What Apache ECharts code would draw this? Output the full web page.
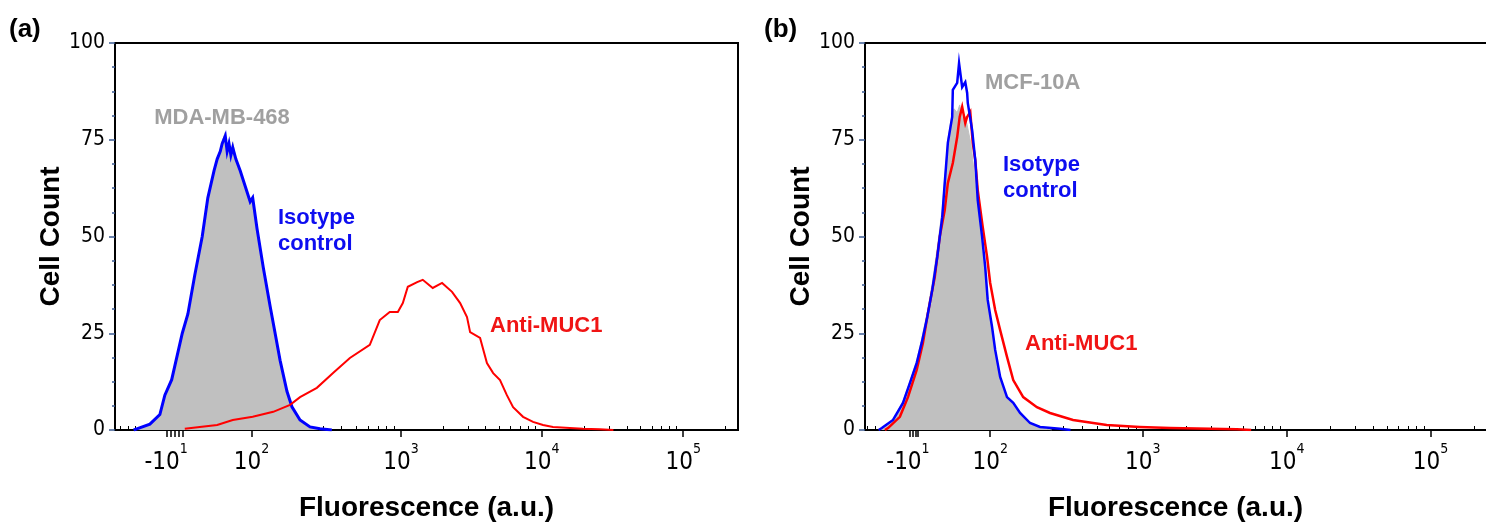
<!DOCTYPE html>
<html>
<head>
<meta charset="utf-8">
<script src="https://cdn.jsdelivr.net/npm/echarts@6.0.0/dist/echarts.min.js"></script>
<style>
html, body { margin: 0; padding: 0; background: #fff; }
#main { width: 1486px; height: 527px; }
</style>
</head>
<body>
<div id="main"></div>
<script>
var NARROW = "'Liberation Sans Narrow', 'Arial Narrow', 'DejaVu Sans Condensed', sans-serif";
var SANS = "'Liberation Sans', Arial, sans-serif";

// x = display channel (0-1000, logicle scale), y = cell count
// (a) MDA-MB-468
var aUnstained = [[30,0],[35,0.2],[56,1.3],[72,3.8],[80,8.5],[91,12.5],[108,24.5],[117,29.5],[128,39.5],[140,49.5],[149,59.5],[159,66.5],[164,70],[169,72.5],[172,74.5],[177,77],[180,72.5],[183,75],[186,71],[189,74.5],[194,70],[201,66.5],[209,62.5],[217,58.5],[221,59.5],[228,51.5],[238,41.5],[249,31.5],[257,24.5],[265,17.5],[276,9.5],[284,5.5],[297,2.2],[313,0.6],[329,0.2],[348,0]];
var aIsotype = [[30,0],[35,0.3],[56,1.5],[72,4],[80,9],[91,13],[108,25],[117,30],[128,40],[140,50],[149,60],[159,67],[164,70],[169,72],[172,74],[177,76],[180,72],[183,74],[186,71],[189,73],[194,70],[201,67],[209,63],[217,59],[221,60],[228,52],[238,42],[249,32],[257,25],[265,18],[276,10],[284,6],[297,2.6],[313,0.8],[329,0.3],[348,0]];
var aAntiMuc1 = [[112,0.3],[136,0.8],[164,1.3],[189,2.6],[221,3.4],[254,4.7],[281,6.5],[297,8.5],[324,10.9],[350,14.7],[377,18.6],[409,22],[425,28.4],[441,30.5],[454,30.5],[462,32.8],[470,37],[485,38.2],[494,38.8],[510,36.7],[525,38],[541,35.7],[554,32.8],[565,29.2],[570,25.3],[586,23.8],[597,17.3],[607,14.7],[618,12.9],[629,9],[639,5.9],[655,3.4],[671,2.1],[687,1.3],[703,0.8],[730,0.5],[751,0.3],[778,0.2],[800,0]];

// (b) MCF-10A
var bUnstained = [[22,0],[27,0.3],[45,2.5],[61,7.5],[72,12.5],[83,18],[91,23.5],[100,30.5],[108,38],[116,47],[124,57],[128,65],[133,75],[138,80],[143,83],[148,82],[152,84],[157,80],[161,81],[165,78],[170,74],[175,67],[179,60],[186,50],[192,42],[197,34],[204,26],[209,20],[217,13.5],[228,8.5],[238,6.5],[249,4],[265,1.6],[281,0.6],[300,0]];
var bIsotype = [[22,0],[27,0.5],[45,2.6],[61,7],[72,12.1],[83,17.3],[91,22.5],[100,29.2],[108,36.2],[116,44.7],[124,55],[128,63.8],[133,74.2],[140,80.9],[141,87.9],[148,89.7],[151,94.8],[156,88.6],[161,89.9],[164,87.1],[165,84.5],[172,77.5],[177,69.8],[181,59.4],[188,49.9],[193,42.1],[197,33.6],[204,26.6],[209,20.7],[217,13.7],[228,8.5],[238,7],[249,4.4],[265,1.8],[281,0.8],[313,0.3],[330,0]];
var bAntiMuc1 = [[32,0],[37,0.5],[56,3.4],[69,8.5],[83,15.5],[93,22.5],[101,30.2],[112,39.5],[120,49.9],[128,56.8],[133,63.8],[141,69],[148,75.7],[152,80.9],[156,83.5],[161,79.3],[164,80.9],[169,82.2],[173,74.2],[177,69.8],[181,62],[189,52.5],[196,44.7],[201,38],[209,31],[217,25.8],[228,18.9],[238,12.9],[254,8.5],[276,5.9],[297,4.4],[334,2.6],[388,1.3],[441,0.8],[490,0.5],[597,0.2],[620,0]];

// axis decorations, in display channels
var aDecades = [219, 459, 685, 912];   // 10^2 .. 10^5
var bDecades = [201, 446, 677, 908];
var aLowTicks = [8, 21, 32, 45, 56, 69, 124, 136, 148, 157, 169, 177, 185, 193, 201, 209];
var bLowTicks = [3, 16, 29, 43, 53, 64, 100, 112, 125, 136, 148, 157, 169, 177, 185, 193];
var aZeroTicks = [83, 90, 96, 103, 109];
var bZeroTicks = [72, 77, 82, 85];
var aNegLabel = 82, bNegLabel = 69;
var tickLabels = [['-10', '1'], ['10', '2'], ['10', '3'], ['10', '4'], ['10', '5']];

function logMinor(dec, max) {
    var out = [];
    for (var i = 0; i < dec.length; i++) {
        var span = i < dec.length - 1 ? dec[i + 1] - dec[i] : dec[i] - dec[i - 1];
        for (var k = 2; k <= 9; k++) {
            var p = dec[i] + span * Math.log10(k);
            if (p < max) out.push(p);
        }
    }
    return out;
}

function xAxes(gridIndex, max, dec, low, zero, negAt) {
    var labelAt = [negAt].concat(dec);
    return [{
        type: 'value', gridIndex: gridIndex, min: 0, max: max,
        name: 'Fluorescence (a.u.)', nameLocation: 'middle', nameGap: 64,
        nameTextStyle: { fontSize: 28, fontWeight: 'bold', fontFamily: SANS, color: '#000' },
        axisLine: { show: true, onZero: false, lineStyle: { color: '#000', width: 2 } },
        axisTick: { show: true, length: 7, customValues: zero.concat(dec), lineStyle: { color: '#000', width: 1.5 } },
        axisLabel: {
            customValues: labelAt, margin: 12,
            formatter: function (v) {
                var t = tickLabels[labelAt.indexOf(v)];
                return t ? '{m|' + t[0] + '}{s|' + t[1] + '}' : '';
            },
            rich: {
                m: { fontSize: 24, fontFamily: NARROW, color: '#000' },
                s: { fontSize: 14, fontFamily: NARROW, color: '#000', padding: [0, 0, 28, 0] }
            }
        },
        splitLine: { show: false }
    }, {
        type: 'value', gridIndex: gridIndex, min: 0, max: max,
        axisLine: { show: false },
        axisTick: { show: true, length: 4, customValues: low.concat(logMinor(dec, max)), lineStyle: { color: '#000', width: 1 } },
        axisLabel: { show: false },
        splitLine: { show: false }
    }];
}

function yAxis(gridIndex) {
    return {
        type: 'value', gridIndex: gridIndex, min: 0, max: 100, interval: 25,
        name: 'Cell Count', nameLocation: 'middle', nameGap: 48,
        nameTextStyle: { fontSize: 28, fontWeight: 'bold', fontFamily: SANS, color: '#000' },
        axisLine: { show: true, lineStyle: { color: '#000', width: 2 } },
        axisTick: { show: true, length: 6, lineStyle: { color: '#3b5b92', width: 1.5 } },
        minorTick: { show: true, splitNumber: 4, length: 3, lineStyle: { color: '#3b5b92', width: 1.5 } },
        axisLabel: { fontSize: 21, fontFamily: NARROW, color: '#000', margin: 10 },
        splitLine: { show: false }
    };
}

function hist(data, xi, yi, color, width, fill, z) {
    var s = {
        type: 'line', xAxisIndex: xi, yAxisIndex: yi, data: data,
        symbol: 'none', silent: true, z: z,
        lineStyle: { color: color, width: width, join: 'miter' }
    };
    if (fill) s.areaStyle = { color: fill, opacity: 1 };
    return s;
}

function label(text, x, y, color, align, vAlign) {
    return {
        type: 'text', x: x, y: y, silent: true,
        style: {
            text: text, fill: color, font: 'bold 22px ' + SANS, lineHeight: 26,
            align: align, verticalAlign: vAlign, textAlign: align, textVerticalAlign: vAlign
        }
    };
}

// panel b is cut off at the right edge of the figure: no right border,
// its top frame line is drawn by a bare top axis
var bTopLine = {
    type: 'value', gridIndex: 1, position: 'top', min: 0, max: 997,
    axisLine: { show: true, lineStyle: { color: '#000', width: 2 } },
    axisTick: { show: false }, axisLabel: { show: false }, splitLine: { show: false }
};

var myChart = echarts.init(document.getElementById('main'));
myChart.setOption({
    animation: false,
    backgroundColor: '#fff',
    grid: [
        { left: 115, top: 43, width: 623, height: 387, show: true, borderColor: '#000', borderWidth: 2 },
        { left: 865, top: 43, width: 621, height: 387, show: false }
    ],
    xAxis: xAxes(0, 1000, aDecades, aLowTicks, aZeroTicks, aNegLabel)
        .concat(xAxes(1, 997, bDecades, bLowTicks, bZeroTicks, bNegLabel))
        .concat([bTopLine]),
    yAxis: [yAxis(0), yAxis(1)],
    series: [
        hist(aUnstained, 0, 0, '#c0c0c0', 1, '#c0c0c0', 1),
        hist(aIsotype, 0, 0, '#0000ff', 3, null, 2),
        hist(aAntiMuc1, 0, 0, '#ff0000', 2, null, 3),
        hist(bUnstained, 2, 1, '#c0c0c0', 1, '#c0c0c0', 1),
        hist(bAntiMuc1, 2, 1, '#ff0000', 2.5, null, 2),
        hist(bIsotype, 2, 1, '#0000ff', 2.5, null, 3)
    ],
    graphic: [
        { type: 'text', x: 9, y: 30, silent: true, style: { text: '(a)', fill: '#000', font: 'bold 26px ' + SANS, verticalAlign: 'middle', textVerticalAlign: 'middle' } },
        { type: 'text', x: 764, y: 30, silent: true, style: { text: '(b)', fill: '#000', font: 'bold 26px ' + SANS, verticalAlign: 'middle', textVerticalAlign: 'middle' } },
        label('MDA-MB-468', 222, 118, '#a0a0a0', 'center', 'middle'),
        label('Isotype\ncontrol', 278, 205, '#0d0df0', 'left', 'top'),
        label('Anti-MUC1', 490, 326, '#f01414', 'left', 'middle'),
        label('MCF-10A', 985, 83, '#a0a0a0', 'left', 'middle'),
        label('Isotype\ncontrol', 1003, 152, '#0d0df0', 'left', 'top'),
        label('Anti-MUC1', 1025, 344, '#f01414', 'left', 'middle')
    ]
});

window.addEventListener('resize', function () {
    myChart.resize();
});
</script>
</body>
</html>
